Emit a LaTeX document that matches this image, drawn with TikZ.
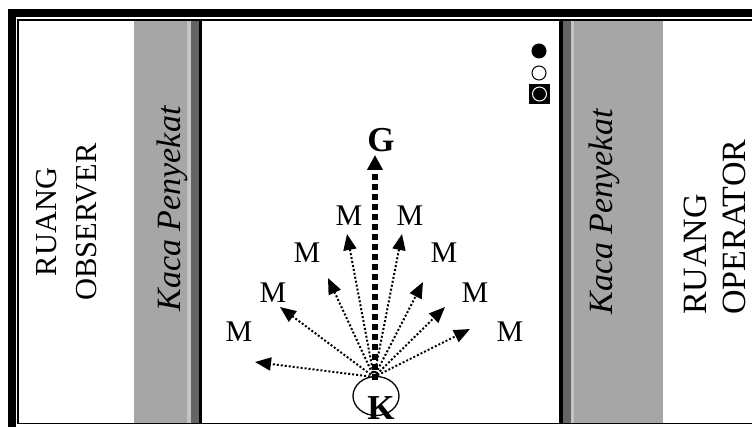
\documentclass[tikz,border=0pt]{standalone}
\usepackage{fontspec}
\setmainfont{Liberation Serif}
\usetikzlibrary{shapes.geometric,arrows.meta}
\definecolor{glass}{HTML}{A6A6A6}
\definecolor{glasslight}{HTML}{C4C4C4}
\definecolor{glassdark}{HTML}{646464}
\tikzset{
  room/.style={rotate=90, font=\fontsize{30.5}{40}\selectfont, inner sep=0pt},
  roombig/.style={rotate=90, font=\fontsize{34}{39}\selectfont, inner sep=0pt},
  glasslabel/.style={rotate=90, anchor=base, font=\fontsize{34}{40}\selectfont\itshape},
  mlabel/.style={font=\fontsize{30}{30}\selectfont, inner sep=0pt},
  biglabel/.style={font=\fontsize{35}{35}\selectfont\bfseries, inner sep=0pt},
  dotarrow/.style={line width=2pt, dash pattern=on 2pt off 2pt, -{Triangle[length=16pt,width=13pt]}},
  goalarrow/.style={line width=5.5pt, dash pattern=on 6pt off 4pt, -{Triangle[length=15pt,width=15pt]}},
}
\begin{document}
\begin{tikzpicture}[x=1pt,y=-1pt]
\useasboundingbox (0,0) rectangle (752,427);
\begin{scope}
\clip (0,0) rectangle (752,427);
% glass strips left
\fill[glass] (134,20) rectangle (187,423.5);
\fill[glasslight] (187,20) rectangle (191,423.5);
\fill[glassdark] (191,20) rectangle (199,423.5);
\fill[black] (199,20) rectangle (202,423.5);
% glass strips right
\fill[black] (559,20) rectangle (563,423.5);
\fill[glassdark] (563,20) rectangle (571,423.5);
\fill[glasslight] (571,20) rectangle (574,423.5);
\fill[glass] (574,20) rectangle (663,423.5);
% room labels
\node[room, align=center] (obs) at (67,222) {RUANG\\OBSERVER};
\node[roombig, align=left, anchor=west] (opr) at (714.5,315) {RUANG\\OPERATOR};
\node[glasslabel] (kl) at (180,209) {Kaca Penyekat};
\node[glasslabel] (kr) at (612,212) {Kaca Penyekat};
% legend
\fill[black] (539,51) circle (7.5);
\draw[line width=1pt] (539,73) circle (7);
\fill[black] (529,84) rectangle (550,104);
\draw[white, line width=1pt] (539.5,94) circle (7);
% K and G
\node[ellipse, draw, line width=1.3pt, minimum width=46pt, minimum height=39pt, inner sep=0pt] (k) at (376,396) {};
\node[biglabel] (klab) at (381,408) {K};
\node[biglabel] (g) at (381,140) {G};
\coordinate (o) at (374,377);
% M labels
\node[mlabel] (m1) at (349,216) {M};
\node[mlabel] (m2) at (410,216) {M};
\node[mlabel] (m3) at (307,253) {M};
\node[mlabel] (m4) at (444,253) {M};
\node[mlabel] (m5) at (273,293) {M};
\node[mlabel] (m6) at (475,293) {M};
\node[mlabel] (m7) at (239,332) {M};
\node[mlabel] (m8) at (510,332) {M};
% arrow tips
\coordinate (t1) at (347,234);
\coordinate (t2) at (402,234);
\coordinate (t3) at (328,278);
\coordinate (t4) at (423,282);
\coordinate (t5) at (280,307);
\coordinate (t6) at (445,307);
\coordinate (t7) at (255,362);
\coordinate (t8) at (470,329);
\coordinate (tg) at (375,155);
\foreach \i in {1,...,8} { \draw[dotarrow] (o) -- (t\i); }
\draw[goalarrow] (375,380) -- (tg);
% frame
\draw[line width=7.5pt] (12,13) rectangle (790,470);
\draw[line width=1.7pt] (18.2,20) rectangle (790,423.5);
\end{scope}
\end{tikzpicture}
\end{document}
